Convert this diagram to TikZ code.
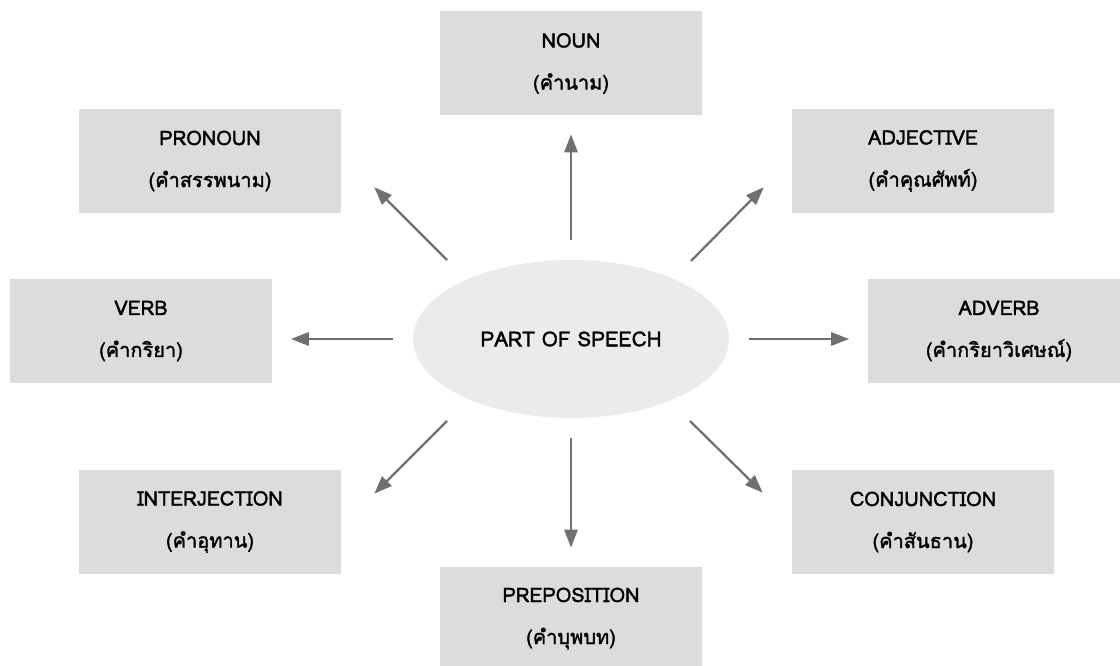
\documentclass[tikz,border=0pt]{standalone}
\usepackage{fontspec}
\usetikzlibrary{shapes.geometric,arrows.meta,calc}
\newfontfamily\loma[Script=Thai,FakeBold=1.6]{Loma}
\definecolor{boxgray}{HTML}{DCDCDC}
\definecolor{ellgray}{HTML}{EBEBEB}
\definecolor{arrgray}{HTML}{707070}
\tikzset{
  wordbox/.style={fill=boxgray, minimum width=196.5pt, minimum height=78pt,
    inner sep=0pt, align=center, font=\loma\fontsize{15}{31.5}\selectfont},
  hub/.style={ellipse, fill=ellgray, minimum width=237pt, minimum height=118.5pt,
    inner sep=0pt, font=\loma\fontsize{15.5}{20}\selectfont},
  arr/.style={draw=arrgray, line width=1.7pt,
    -{Triangle[length=13.5pt,width=10pt]}, shorten <=15pt, shorten >=14pt}
}
\begin{document}
\begin{tikzpicture}[x=0.75pt,y=-0.75pt]
  \useasboundingbox (0,0) rectangle (1120,666);
  % centre ellipse
  \node[hub] (pos) at (571,339) {PART OF SPEECH};
  % the eight word classes
  \node[wordbox] (noun) at (571,63.5) {NOUN\\(คำนาม)};
  \node[wordbox] (pronoun) at (210,161) {PRONOUN\\(คำสรรพนาม)};
  \node[wordbox] (adjective) at (923,161) {ADJECTIVE\\(คำคุณศัพท์)};
  \node[wordbox] (verb) at (141,331) {VERB\\(คำกริยา)};
  \node[wordbox] (adverb) at (999,331) {ADVERB\\(คำกริยาวิเศษณ์)};
  \node[wordbox] (interjection) at (210,522) {INTERJECTION\\(คำอุทาน)};
  \node[wordbox] (conjunction) at (923,522) {CONJUNCTION\\(คำสันธาน)};
  \node[wordbox] (preposition) at (571,618.5) {PREPOSITION\\(คำบุพบท)};
  % straight arrows
  \draw[arr] (pos.north) -- (noun.south);
  \draw[arr] (pos.south) -- (preposition.north);
  \draw[arr] (pos.west) -- (pos.west -| verb.east);
  \draw[arr] (pos.east) -- (pos.east -| adverb.west);
  % diagonal arrows, ends at 45 degrees
  \coordinate (tailnw) at ($(pos.center)+(-124,-79)$);
  \coordinate (tipnw) at ($(pronoun.south east)+(33,-26)$);
  \coordinate (tailne) at ($(pos.center)+(120,-78)$);
  \coordinate (tipne) at ($(adjective.south west)+(-28,-26)$);
  \coordinate (tailsw) at ($(pos.center)+(-124,82)$);
  \coordinate (tipsw) at ($(interjection.north east)+(33,24)$);
  \coordinate (tailse) at ($(pos.center)+(119,82)$);
  \coordinate (tipse) at ($(conjunction.north west)+(-29,23)$);
  \draw[arr,shorten <=0pt,shorten >=0pt] (tailnw) -- (tipnw);
  \draw[arr,shorten <=0pt,shorten >=0pt] (tailne) -- (tipne);
  \draw[arr,shorten <=0pt,shorten >=0pt] (tailsw) -- (tipsw);
  \draw[arr,shorten <=0pt,shorten >=0pt] (tailse) -- (tipse);
\end{tikzpicture}
\end{document}
